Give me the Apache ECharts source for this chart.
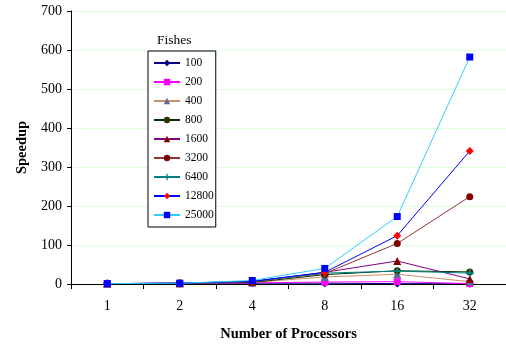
<!DOCTYPE html>
<html><head><meta charset="utf-8">
<script src="https://cdn.jsdelivr.net/npm/echarts@6/dist/echarts.min.js"></script>
<style>html,body{margin:0;padding:0;background:#fff}#c{width:506px;height:347px}</style>
</head><body><div id="c"></div>
<script>
const categories = ['1','2','4','8','16','32'];
const seriesNames = ['100','200','400','800','1600','3200','6400','12800','25000'];
const s100   = [1, 1.5, 2, 2, 1, 0.5];
const s200   = [1, 2, 3, 5, 6, 1];
const s400   = [1, 2, 4, 18, 25, 6];
const s800   = [1, 2, 4, 24, 34, 31];
const s1600  = [1, 2, 6, 30, 59, 13];
const s3200  = [1, 2, 6, 27, 104, 224];
const s6400  = [1, 2, 7, 28, 33, 28];
const s12800 = [1, 2, 7, 30, 124, 341];
const s25000 = [1, 2, 9, 40, 173, 582];
const yTicks = [0,100,200,300,400,500,600,700];

const values = [s100,s200,s400,s800,s1600,s3200,s6400,s12800,s25000];
const lineColors = ['#000080','#FF00FF','#C8926A','#003300','#800080','#993333','#008080','#0000FF','#33CCFF'];
const markColors = ['#000080','#FF00FF','#666699','#333300','#800000','#800000','#008080','#FF0000','#0000FF'];
const plus = 'path://M4,0h2v4h4v2h-4v4h-2v-4h-4v-2h4z';
const symbols = ['diamond','rect','triangle','circle','triangle','circle',plus,'diamond','rect'];
const sizes = [8,7,8,7,8,7,8,8,7];

const chart = echarts.init(document.getElementById('c'));
const font = 'Liberation Serif';
chart.setOption({
  animation:false,
  textStyle:{fontFamily:font},
  title:{text:'Fishes', left:152, top:28, textStyle:{fontFamily:font,fontSize:13.5,fontWeight:'normal',color:'#000'}},
  legend:{
    orient:'vertical', left:148, top:51,
    data:seriesNames,
    borderColor:'#000', borderWidth:1, padding:[6,2,6,5],
    itemWidth:26, itemHeight:8, itemGap:7,
    textStyle:{fontFamily:font,fontSize:11.5,color:'#000'},
    backgroundColor:'#fff'
  },
  grid:{left:71, top:11, width:438, height:273, containLabel:false},
  xAxis:{
    type:'category', data:categories, boundaryGap:true,
    name:'Number of Processors', nameLocation:'middle', nameGap:43,
    nameTextStyle:{fontFamily:font,fontSize:14.5,fontWeight:'bold',color:'#000'},
    axisLine:{lineStyle:{color:'#000',width:1}},
    axisTick:{show:true,length:5,lineStyle:{color:'#000'}},
    axisLabel:{margin:15,fontFamily:font,fontSize:14,color:'#000'}
  },
  yAxis:{
    type:'value', min:0, max:700, interval:100,
    name:'Speedup', nameLocation:'middle', nameGap:40, nameRotate:90,
    nameTextStyle:{fontFamily:font,fontSize:14.5,fontWeight:'bold',color:'#000'},
    axisLine:{show:true,lineStyle:{color:'#000',width:1}},
    axisTick:{show:true,length:4,lineStyle:{color:'#000'}},
    axisLabel:{margin:9,fontFamily:font,fontSize:14,color:'#000',
      formatter:v=>yTicks.includes(v)?String(v):''},
    splitLine:{show:true,lineStyle:{color:'#DDFFDD',width:1}}
  },
  series: seriesNames.map((n,i)=>({
    name:n, type:'line', data:values[i],
    symbol:symbols[i], symbolSize:sizes[i], showSymbol:true,
    lineStyle:{color:lineColors[i],width:1},
    itemStyle:{color:markColors[i],borderWidth:0},
    z:2+i
  }))
});
</script></body></html>
